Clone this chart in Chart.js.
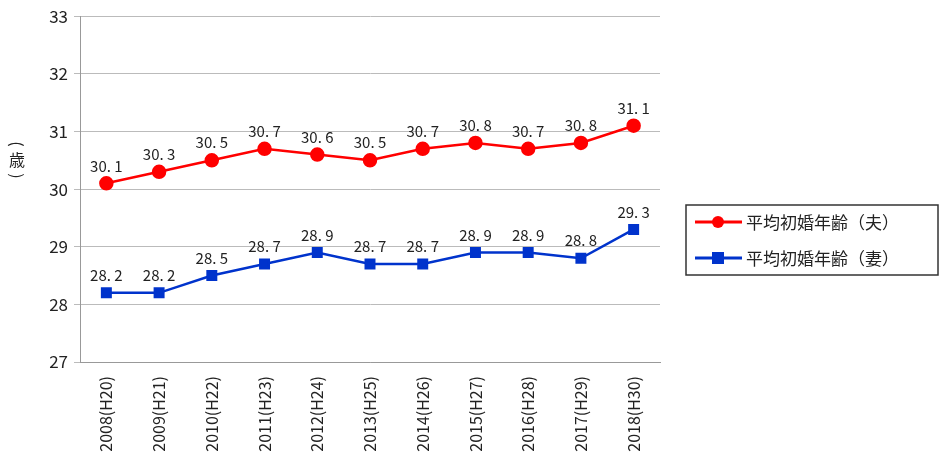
<!DOCTYPE html>
<html><head><meta charset="utf-8">
<script src="https://cdn.jsdelivr.net/npm/chart.js@4"></script>
<style>html,body{margin:0;background:#fff}#c{display:block}</style>
</head><body>
<div style="width:944px;height:471px"><canvas id="c"></canvas></div>
<script>
const labels = ['2008(H20)','2009(H21)','2010(H22)','2011(H23)','2012(H24)','2013(H25)','2014(H26)','2015(H27)','2016(H28)','2017(H29)','2018(H30)'];
const husband = [30.1,30.3,30.5,30.7,30.6,30.5,30.7,30.8,30.7,30.8,31.1];
const wife = [28.2,28.2,28.5,28.7,28.9,28.7,28.7,28.9,28.9,28.8,29.3];
const seriesNames = ['平均初婚年齢（夫）','平均初婚年齢（妻）'];
const FONT = '"Noto Sans CJK JP", "Noto Sans", sans-serif';

const extras = {
  id: 'extras',
  afterDatasetsDraw(chart) {
    const ctx = chart.ctx;
    ctx.save();
    ctx.fillStyle = '#222';
    ctx.font = '15px ' + FONT;
    ctx.textAlign = 'center';
    ctx.textBaseline = 'bottom';
    chart.data.datasets.forEach((ds, i) => {
      chart.getDatasetMeta(i).data.forEach((pt, j) => {
        const s = ds.data[j].toFixed(1).split('.');
        ctx.fillText(s[0] + '. ' + s[1], pt.x, pt.y - 10);
      });
    });
    // y unit label (vertical)
    ctx.font = '16px ' + FONT;
    ctx.textBaseline = 'middle';
    ctx.fillText('歳', 17, 160);
    ['(', ')'].forEach((p, k) => {
      ctx.save();
      ctx.translate(17, k ? 176 : 144);
      ctx.rotate(Math.PI / 2);
      ctx.fillText(p, 0, 0);
      ctx.restore();
    });
    // legend
    ctx.strokeStyle = '#333';
    ctx.lineWidth = 1.5;
    ctx.strokeRect(686, 205, 252, 70);
    const cols = ['#ff0000', '#0033cc'];
    ctx.font = '17px ' + FONT;
    ctx.textAlign = 'left';
    cols.forEach((c, i) => {
      const y = 222 + i * 36;
      ctx.strokeStyle = c;
      ctx.lineWidth = 3;
      ctx.beginPath(); ctx.moveTo(695, y); ctx.lineTo(742, y); ctx.stroke();
      ctx.fillStyle = c;
      if (i === 0) { ctx.beginPath(); ctx.arc(718, y, 6, 0, Math.PI * 2); ctx.fill(); }
      else ctx.fillRect(712, y - 6, 12, 12);
      ctx.fillStyle = '#222';
      ctx.fillText(seriesNames[i], 746, y + 1);
    });
    ctx.restore();
  }
};

new Chart(document.getElementById('c'), {
  type: 'line',
  data: {
    labels: labels,
    datasets: [{
      label: seriesNames[0], data: husband,
      borderColor: '#ff0000', backgroundColor: '#ff0000',
      borderWidth: 2.5, pointStyle: 'circle', pointRadius: 6
    }, {
      label: seriesNames[1], data: wife,
      borderColor: '#0033cc', backgroundColor: '#0033cc',
      borderWidth: 2.5, pointStyle: 'rect', pointRadius: 6
    }]
  },
  options: {
    responsive: true, maintainAspectRatio: false, animation: false,
    layout: { padding: { top: 9, right: 284, left: 0, bottom: 0 } },
    plugins: { legend: { display: false }, tooltip: { enabled: false } },
    scales: {
      x: {
        offset: true,
        grid: { display: false },
        border: { color: '#999' },
        ticks: { color: '#222', font: { size: 16, family: FONT }, maxRotation: 90, minRotation: 90, padding: 6 },
        afterFit: s => { s.height = 109; }
      },
      y: {
        min: 27, max: 33,
        grid: { color: '#bbb', drawTicks: true, tickLength: 6 },
        border: { color: '#999' },
        ticks: { stepSize: 1, color: '#222', font: { size: 17, family: FONT }, padding: 6 },
        afterFit: s => { s.width = 80; }
      }
    }
  },
  plugins: [extras]
});
</script>
</body></html>
